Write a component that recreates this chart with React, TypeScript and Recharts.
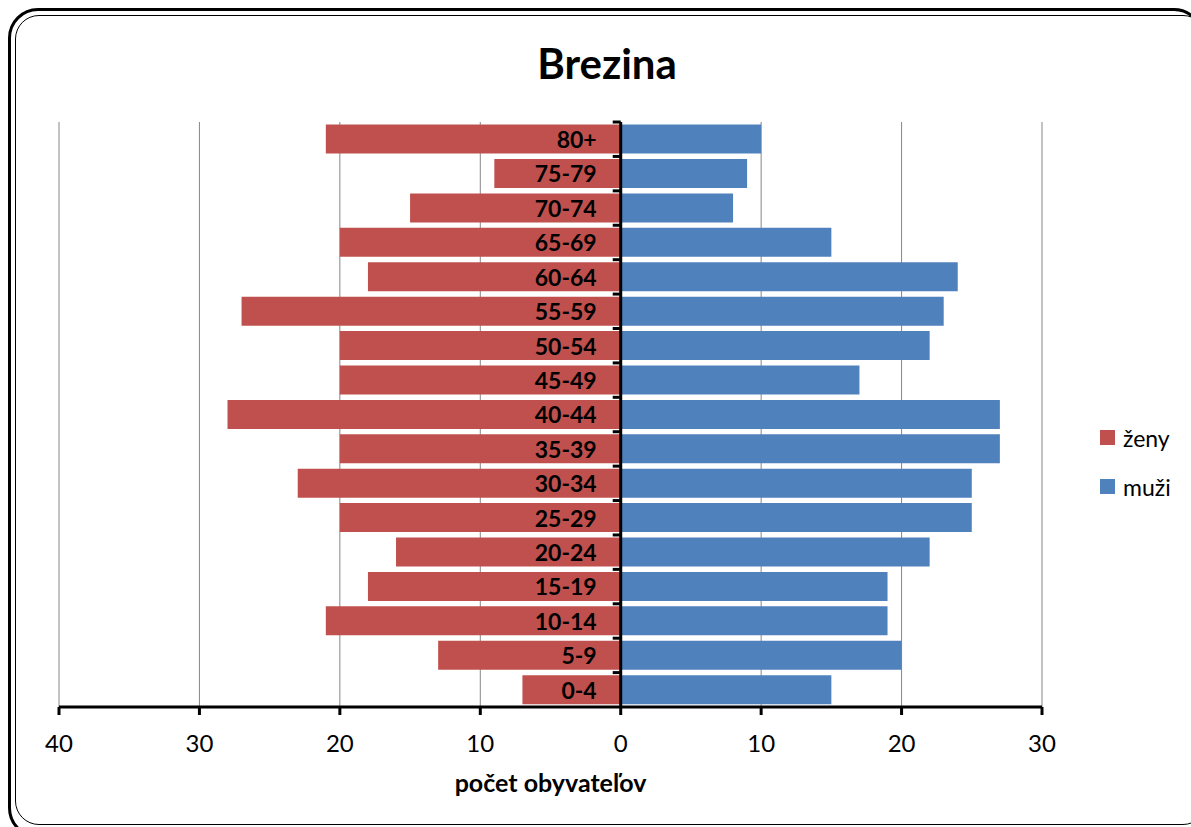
import React from "react";
import {
  BarChart,
  Bar,
  XAxis,
  YAxis,
  CartesianGrid,
  ReferenceLine,
  LabelList,
} from "recharts";

const ageGroups = [
  "80+", "75-79", "70-74", "65-69", "60-64", "55-59", "50-54", "45-49",
  "40-44", "35-39", "30-34", "25-29", "20-24", "15-19", "10-14", "5-9", "0-4",
];
const zeny = [21, 9, 15, 20, 18, 27, 20, 20, 28, 20, 23, 20, 16, 18, 21, 13, 7];
const muzi = [10, 9, 8, 15, 24, 23, 22, 17, 27, 27, 25, 25, 22, 19, 19, 20, 15];
const xTicks = [-40, -30, -20, -10, 0, 10, 20, 30];
const seriesNames = ["ženy", "muži"];
const seriesColors = ["#C0504D", "#4F81BD"];
const chartTitle = "Brezina";
const xTitle = "počet obyvateľov";

const data = ageGroups.map((age, i) => ({
  age,
  zeny: -zeny[i],
  muzi: muzi[i],
}));

const FONT = "Lato, 'Open Sans', sans-serif";
const GAP = 0.075;

const CategoryLabel = (props: any) => {
  const vb = props.viewBox || {};
  const x = props.x ?? vb.x;
  const y = props.y ?? vb.y;
  const h = props.height ?? vb.height;
  const half = (h * GAP) / (1 - 2 * GAP);
  const top = y - half;
  return (
    <g>
      <line x1={x - 8} x2={x} y1={top} y2={top} stroke="#000" strokeWidth={3} />
      <text
        x={x - 24}
        y={y + h / 2}
        textAnchor="end"
        dominantBaseline="central"
        fontFamily={FONT}
        fontWeight="bold"
        fontSize={23}
        fill="#000"
      >
        {props.value}
      </text>
    </g>
  );
};

export default function App() {
  return (
    <div
      style={{
        position: "fixed",
        left: 0,
        top: 0,
        width: 1191,
        height: 827,
        overflow: "hidden",
        background: "#fff",
        fontFamily: FONT,
      }}
    >
      <div style={{ position: "absolute", left: 8, top: 8, width: 1183, height: 819 }}>
        <div
          style={{
            position: "absolute",
            left: 0,
            top: 0,
            width: 1190,
            height: 824,
            border: "3px solid #000",
            borderRadius: 30,
            boxSizing: "content-box",
          }}
        />
        <div
          style={{
            position: "absolute",
            left: 7,
            top: 7,
            width: 1190,
            height: 808,
            border: "1px solid #000",
            borderRadius: 24,
            boxSizing: "content-box",
          }}
        />
        <div
          style={{
            position: "absolute",
            left: 0,
            top: 30,
            width: 1198,
            textAlign: "center",
            fontSize: 42,
            fontWeight: "bold",
            lineHeight: "50px",
            color: "#000",
          }}
        >
          {chartTitle}
        </div>
        <div style={{ position: "absolute", left: 0, top: 0 }}>
          <BarChart
            width={1183}
            height={819}
            data={data}
            layout="vertical"
            stackOffset="sign"
            barCategoryGap="7.5%"
            margin={{ top: 114, right: 149, bottom: 20, left: 51 }}
          >
            <CartesianGrid horizontal={false} vertical={true} stroke="#868686" strokeWidth={1} />
            <XAxis
              type="number"
              domain={[-40, 30]}
              ticks={xTicks}
              tickFormatter={(v: number) => String(Math.abs(v))}
              allowDataOverflow
              height={100}
              axisLine={{ stroke: "#000", strokeWidth: 3 }}
              tickLine={{ stroke: "#000", strokeWidth: 3 }}
              tickSize={8}
              tickMargin={20}
              tick={{ fontSize: 24, fill: "#000", fontFamily: FONT }}
              label={{
                value: xTitle,
                position: "insideBottom",
                offset: 15,
                style: { fontSize: 25, fontWeight: "bold", fill: "#000", fontFamily: FONT },
              }}
            />
            <YAxis type="category" dataKey="age" hide />
            <Bar dataKey="zeny" stackId="a" fill={seriesColors[0]} isAnimationActive={false} />
            <Bar dataKey="muzi" stackId="a" fill={seriesColors[1]} isAnimationActive={false}>
              <LabelList dataKey="age" content={CategoryLabel} />
            </Bar>
            <ReferenceLine x={0} stroke="#000" strokeWidth={3} />
          </BarChart>
        </div>
        <div style={{ position: "absolute", left: 1092, top: 405 }}>
          {seriesNames.map((n, i) => (
            <div
              key={n}
              style={{ display: "flex", alignItems: "center", height: 49 }}
            >
              <div
                style={{
                  width: 15,
                  height: 15,
                  background: seriesColors[i],
                  marginRight: 8,
                }}
              />
              <span style={{ fontSize: 23, color: "#000" }}>{n}</span>
            </div>
          ))}
        </div>
      </div>
    </div>
  );
}
